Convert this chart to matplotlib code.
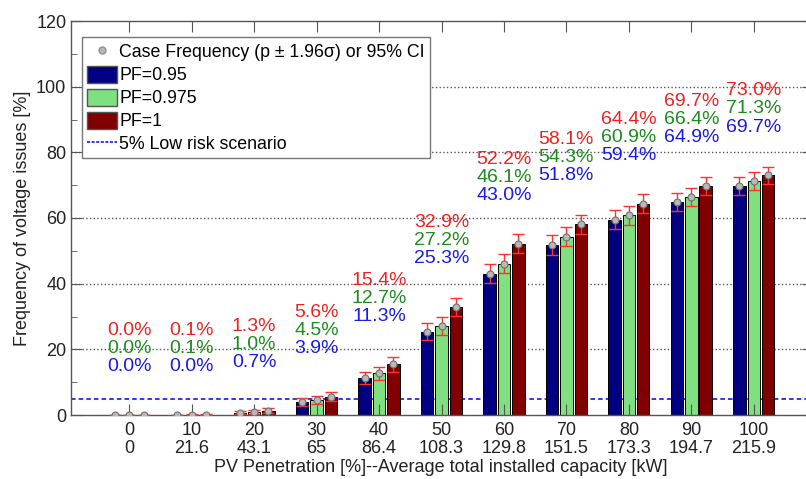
import numpy as np
import matplotlib.pyplot as plt
from matplotlib.patches import Patch
from matplotlib.lines import Line2D

plt.rcParams['font.family'] = ['Liberation Sans', 'DejaVu Sans']

penetration = ['0', '10', '20', '30', '40', '50', '60', '70', '80', '90', '100']
capacity = ['0', '21.6', '43.1', '65', '86.4', '108.3', '129.8', '151.5', '173.3', '194.7', '215.9']

pf095 = [0.0, 0.0, 0.7, 3.9, 11.3, 25.3, 43.0, 51.8, 59.4, 64.9, 69.7]
pf0975 = [0.0, 0.1, 1.0, 4.5, 12.7, 27.2, 46.1, 54.3, 60.9, 66.4, 71.3]
pf1 = [0.0, 0.1, 1.3, 5.6, 15.4, 32.9, 52.2, 58.1, 64.4, 69.7, 73.0]

# half width of the 95% CI
ci095 = [0.0, 0.0, 0.5, 1.2, 1.9, 2.6, 2.9, 2.95, 2.9, 2.8, 2.7]
ci0975 = [0.0, 0.2, 0.6, 1.3, 2.0, 2.7, 2.95, 2.95, 2.9, 2.8, 2.7]
ci1 = [0.0, 0.2, 0.7, 1.4, 2.2, 2.8, 2.95, 2.9, 2.8, 2.7, 2.6]

low_risk = 5

series = [
    (pf095, ci095, '#000080', 'PF=0.95', '#1a1ae6'),
    (pf0975, ci0975, '#80e080', 'PF=0.975', '#1f8a1f'),
    (pf1, ci1, '#800000', 'PF=1', '#ee2222'),
]

fig = plt.figure(figsize=(8.06, 4.79), dpi=100)
ax = fig.add_axes([70.5 / 806, 1 - 415 / 479, 742 / 806, 394 / 479])

x = np.arange(len(penetration))
width = 0.2
offs = [-0.23, 0.0, 0.23]

ax.axhline(low_risk, color='#0000ee', ls='--', lw=1.1, dashes=(3, 2), zorder=1)
for yg in [20, 40, 60, 80, 100]:
    ax.axhline(yg, color='#555555', ls=':', lw=1.0, zorder=0)

for (vals, ci, col, lab, tcol), off in zip(series, offs):
    ax.bar(x + off, vals, width, color=col, edgecolor='black', linewidth=0.7, zorder=2)
    ax.errorbar(x + off, vals, yerr=ci, fmt='none', ecolor='#ff3030', elinewidth=1.0,
                capsize=4.5, capthick=1.0, zorder=3)
    ax.plot(x + off, vals, 'o', ms=5, mfc='#b8b8b8', mec='#707070', mew=0.8, zorder=4)

# value labels stacked above each group
for i in range(len(x)):
    top = max(pf095[i], pf0975[i], pf1[i]) + 25.7
    for k, (vals, ci, col, lab, tcol) in enumerate(series[::-1]):
        ax.text(x[i], top - 5.5 * k, f'{vals[i]:.1f}%', color=tcol, fontsize=14,
                ha='center', va='center', zorder=5)

ax.set_xlim(-0.94, 10.94)
ax.set_ylim(0, 120)
ax.set_yticks(np.arange(0, 121, 20))
ax.set_yticks(np.arange(0, 121, 10), minor=True)
ax.set_xticks(x)
ax.set_xticklabels([f'{p}\n{c}' for p, c in zip(penetration, capacity)], linespacing=1.1)
ax.tick_params(axis='both', which='both', direction='in', colors='#555555',
               labelcolor='#222222', labelsize=13, top=True, right=True)
ax.tick_params(axis='x', which='major', length=8, pad=5)
ax.tick_params(axis='y', which='major', length=8, pad=3)
ax.tick_params(axis='y', which='minor', length=4)
ax.tick_params(axis='x', which='minor', bottom=False, top=False)
for s in ax.spines.values():
    s.set_color('#555555')
    s.set_linewidth(1.0)
for t in ax.get_xticklines() + ax.get_yticklines():
    t.set_zorder(6)
ax.set_axisbelow(False)

fig.text(441 / 806, 1 - 468 / 479, 'PV Penetration [%]--Average total installed capacity [kW]',
         fontsize=13, color='#222222', ha='center', va='center')
ax.set_ylabel('Frequency of voltage issues [%]', fontsize=13, color='#222222', labelpad=4)

handles = [
    Line2D([], [], ls='none', marker='o', ms=5, mfc='#b8b8b8', mec='#909090'),
    Patch(facecolor='#000080', edgecolor='#555555'),
    Patch(facecolor='#80e080', edgecolor='#555555'),
    Patch(facecolor='#800000', edgecolor='#555555'),
    Line2D([], [], color='#0000ee', ls='--', lw=1.1, dashes=(2, 1)),
]
labels = ['Case Frequency (p \u00b1 1.96\u03c3) or 95% CI', 'PF=0.95', 'PF=0.975', 'PF=1',
          '5% Low risk scenario']
leg = ax.legend(handles, labels, loc='upper left', bbox_to_anchor=(0.0155, 0.959),
                borderaxespad=0, fontsize=12.8, fancybox=False, framealpha=1,
                edgecolor='#777777', handlelength=1.65, handleheight=1.1,
                handletextpad=0.15, labelspacing=0.25, borderpad=0.3)
leg.get_frame().set_linewidth(1.0)
leg.set_zorder(10)

fig.savefig('out.png', dpi=100)
